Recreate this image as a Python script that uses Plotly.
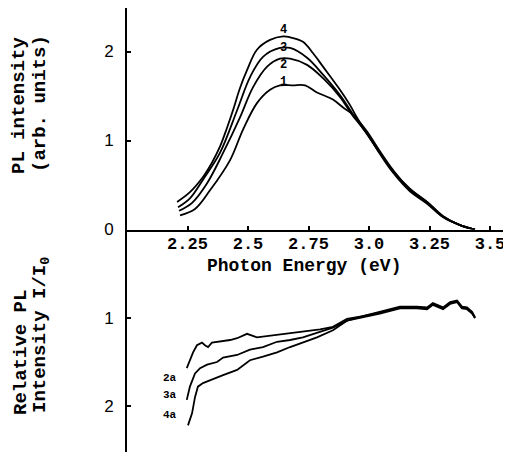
import plotly.graph_objects as go

# ---------------- data (top panel: PL spectra) ----------------
x1 = [2.219, 2.281, 2.343, 2.426, 2.479, 2.537, 2.591, 2.632, 2.686, 2.736, 2.785, 2.851, 2.893, 2.934, 2.963,
      2.992, 3.045, 3.099, 3.169, 3.240, 3.306, 3.376, 3.438]
y1 = [0.16, 0.23, 0.44, 0.78, 1.12, 1.42, 1.57, 1.62, 1.62, 1.62, 1.54, 1.46, 1.37, 1.29, 1.20,
      1.10, 0.88, 0.67, 0.45, 0.31, 0.15, 0.05, 0.0]

x2 = [2.215, 2.269, 2.331, 2.397, 2.467, 2.521, 2.579, 2.632, 2.674, 2.744, 2.810, 2.880, 2.930,
      2.992, 3.045, 3.099, 3.169, 3.240, 3.306, 3.376, 3.438]
y2 = [0.21, 0.30, 0.52, 0.86, 1.26, 1.60, 1.83, 1.92, 1.92, 1.85, 1.70, 1.49, 1.29,
      1.08, 0.85, 0.64, 0.43, 0.29, 0.14, 0.05, 0.0]

x3 = [2.211, 2.260, 2.314, 2.384, 2.455, 2.508, 2.562, 2.632, 2.674, 2.744, 2.810, 2.880, 2.930,
      2.992, 3.045, 3.099, 3.169, 3.240, 3.306, 3.376, 3.438]
y3 = [0.25, 0.35, 0.56, 0.86, 1.34, 1.71, 1.94, 2.04, 2.04, 1.93, 1.74, 1.51, 1.31,
      1.07, 0.86, 0.66, 0.46, 0.31, 0.15, 0.05, 0.0]

x4 = [2.207, 2.260, 2.314, 2.351, 2.384, 2.413, 2.438, 2.467, 2.496, 2.537, 2.591, 2.645, 2.674, 2.727,
      2.769, 2.810, 2.880, 2.921, 2.950, 2.992, 3.045, 3.099, 3.169, 3.240, 3.306, 3.376, 3.438]
y4 = [0.31, 0.42, 0.59, 0.75, 0.93, 1.14, 1.34, 1.59, 1.79, 2.02, 2.13, 2.17, 2.16, 2.11,
      1.98, 1.83, 1.57, 1.40, 1.26, 1.08, 0.86, 0.65, 0.44, 0.30, 0.14, 0.05, 0.0]

# ---------------- data (bottom panel: relative PL, I/I0) ----------------
x2a = [2.247, 2.260, 2.273, 2.289, 2.310, 2.322, 2.335, 2.351, 2.384, 2.426, 2.455, 2.496, 2.537, 2.591,
       2.661, 2.727, 2.798, 2.851, 2.909, 2.975, 3.045, 3.128, 3.198, 3.240, 3.264, 3.306, 3.335, 3.364,
       3.384, 3.405, 3.426, 3.438]
r2a = [1.57, 1.48, 1.39, 1.31, 1.28, 1.31, 1.33, 1.28, 1.27, 1.25, 1.23, 1.18, 1.22, 1.20,
       1.18, 1.15, 1.13, 1.10, 1.01, 0.98, 0.93, 0.87, 0.87, 0.88, 0.83, 0.88, 0.82, 0.80,
       0.87, 0.88, 0.93, 0.99]

x3a = [2.247, 2.260, 2.281, 2.302, 2.331, 2.372, 2.397, 2.455, 2.508, 2.562, 2.620, 2.674, 2.727, 2.785,
       2.851, 2.909, 2.975, 3.045, 3.128, 3.198, 3.240, 3.264, 3.306, 3.335, 3.364, 3.384, 3.405, 3.426,
       3.438]
r3a = [1.93, 1.78, 1.63, 1.57, 1.53, 1.50, 1.45, 1.42, 1.36, 1.33, 1.27, 1.25, 1.22, 1.17,
       1.11, 1.03, 0.99, 0.95, 0.89, 0.89, 0.90, 0.85, 0.90, 0.84, 0.82, 0.89, 0.90, 0.95,
       1.00]

x4a = [2.252, 2.269, 2.281, 2.293, 2.314, 2.355, 2.397, 2.455, 2.508, 2.562, 2.620, 2.674, 2.727, 2.785,
       2.851, 2.909, 2.975, 3.045, 3.128, 3.198, 3.240, 3.264, 3.306, 3.335, 3.364, 3.384, 3.405, 3.426,
       3.438]
r4a = [2.22, 2.08, 1.90, 1.78, 1.74, 1.70, 1.65, 1.59, 1.48, 1.44, 1.39, 1.33, 1.28, 1.22,
       1.14, 1.03, 0.98, 0.94, 0.88, 0.88, 0.89, 0.84, 0.89, 0.83, 0.81, 0.88, 0.89, 0.94,
       1.00]

top_labels = ["1", "2", "3", "4"]
top_label_y = [1.66, 1.85, 2.04, 2.24]
top_label_x = [2.645, 2.645, 2.645, 2.645]
bot_labels = ["2a", "3a", "4a"]
bot_label_y = [1.68, 1.875, 2.10]
bot_label_x = [2.178, 2.178, 2.178]

xtick_vals = [2.25, 2.5, 2.75, 3.0, 3.25, 3.5]
xtick_text = ["2.25", "2.5", "2.75", "3.0", "3.25", "3.5"]
ytop_vals = [0, 1, 2]
ybot_vals = [1, 2]

# ---------------- figure ----------------
# page body has an 8px margin, so the figure is 8px smaller than the window
OFF = 8
W, H = 511 - OFF, 452 - OFF
L, R, T, B = 127 - OFF, 0, 8 - OFF, 0
PW, PH = W - L - R, H - T - B

def px(xp):   # reference-window pixel -> paper fraction
    return (xp - OFF - L) / PW

def py(yp):
    return (H - B - (yp - OFF)) / PH

line = dict(color="black", width=1.8)
fig = go.Figure()
for xs, ys in [(x1, y1), (x2, y2), (x3, y3), (x4, y4)]:
    fig.add_trace(go.Scatter(x=xs, y=ys, mode="lines", line=line, line_shape="spline",
                             xaxis="x", yaxis="y", showlegend=False, hoverinfo="skip"))
for xs, ys in [(x2a, r2a), (x3a, r3a), (x4a, r4a)]:
    fig.add_trace(go.Scatter(x=xs, y=ys, mode="lines", line=line,
                             xaxis="x2", yaxis="y2", showlegend=False, hoverinfo="skip"))

y0_px = 229.5
top_dom0 = py(y0_px)
xr = [2.0, 2.0 + PW / 242.0]

mono = "Liberation Mono, Courier New, monospace"
sans = "Liberation Sans, Arial, sans-serif"

fig.update_layout(
    template="none",
    width=W, height=H,
    margin=dict(l=L, r=R, t=T, b=B, pad=0, autoexpand=False),
    paper_bgcolor="white", plot_bgcolor="white",
    showlegend=False,
    xaxis=dict(domain=[0, 1], range=xr, anchor="y", showgrid=False, zeroline=False, automargin=False,
               showline=True, linecolor="black", linewidth=1.8,
               ticks="inside", ticklen=4, tickwidth=1.8, tickcolor="black",
               tickvals=xtick_vals, ticktext=xtick_text, ticklabelstandoff=-3,
               tickfont=dict(family=mono, size=17, color="black", weight="bold")),
    yaxis=dict(domain=[top_dom0, 1], range=[0, (y0_px - 8) / 89.0], anchor="x", automargin=False,
               showgrid=False, zeroline=False, showline=True, linecolor="black", linewidth=1.8,
               ticks="inside", ticklen=4, tickwidth=1.8, tickcolor="black",
               tickvals=ytop_vals, ticktext=[str(v) for v in ytop_vals], ticklabelstandoff=8,
               tickfont=dict(family=sans, size=17, color="black")),
    xaxis2=dict(domain=[0, 1], range=xr, anchor="y2", visible=False, automargin=False),
    yaxis2=dict(domain=[0, top_dom0], range=[1 + (452 - 318) / 88.0, 1 - (318 - y0_px) / 88.0],
                anchor="x2", showgrid=False, zeroline=False, showline=True, linecolor="black",
                automargin=False,
                linewidth=1.8, ticks="inside", ticklen=4, tickwidth=1.8, tickcolor="black",
                tickvals=ybot_vals, ticktext=[str(v) for v in ybot_vals], ticklabelstandoff=8,
                tickfont=dict(family=sans, size=17, color="black")),
)

for t, xv, yv in zip(top_labels, top_label_x, top_label_y):
    fig.add_annotation(x=xv, y=yv, xref="x", yref="y", text="<b>%s</b>" % t, showarrow=False,
                       xanchor="center", yanchor="middle",
                       font=dict(family=mono, size=12, color="black"))
for t, xv, yv in zip(bot_labels, bot_label_x, bot_label_y):
    fig.add_annotation(x=xv, y=yv, xref="x2", yref="y2", text="<b>%s</b>" % t, showarrow=False,
                       xanchor="center", yanchor="middle",
                       font=dict(family=mono, size=11, color="black"))

def label(text, xr_, yr_, angle=0, size=18):
    fig.add_annotation(x=px(xr_), y=py(yr_), xref="paper", yref="paper", text=text,
                       textangle=angle, showarrow=False, xanchor="center", yanchor="middle",
                       font=dict(family=mono, size=size, color="black", weight="bold"))

label("Photon Energy (eV)", 304, 266, 0, 18)
label("PL intensity", 19, 106, -90, 19)
label("(arb. units)", 40, 104, -90, 19)
label("Relative PL", 21, 353, -90, 19)
label("Intensity I/I<sub>0</sub>", 41, 335, -90, 19)

fig.write_html("out.html", config={"responsive": False})
